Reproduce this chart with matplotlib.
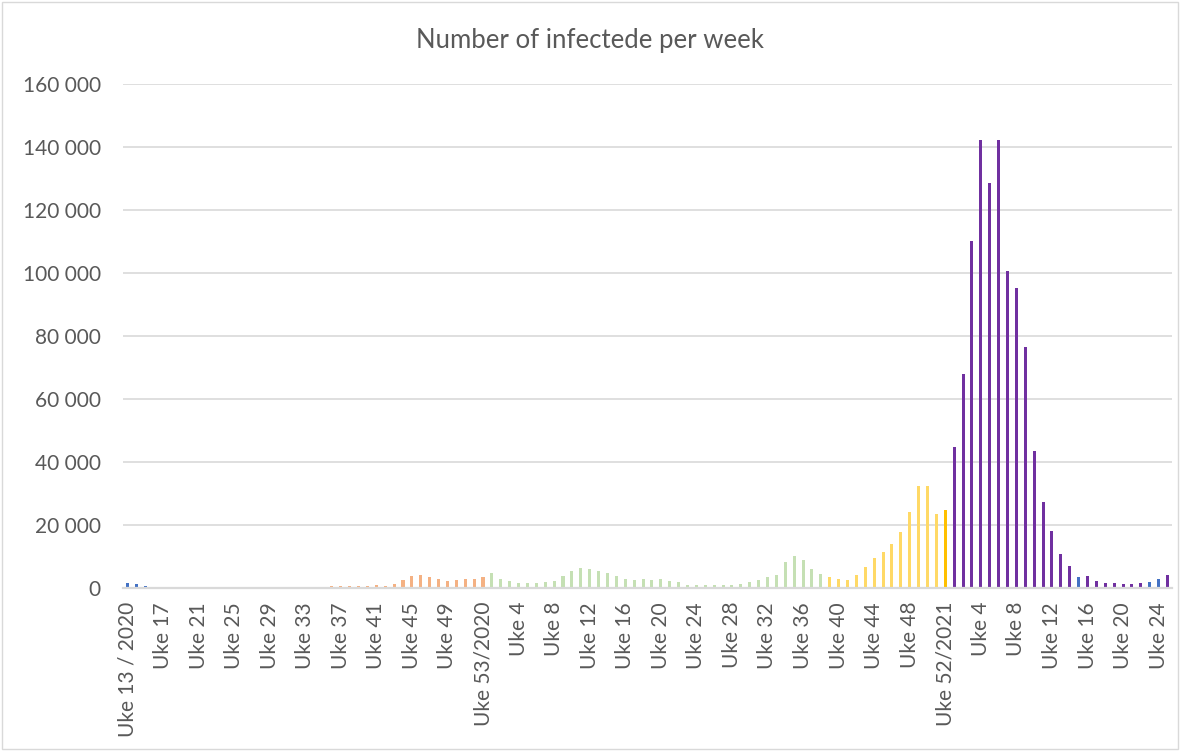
import matplotlib
matplotlib.use("Agg")
import matplotlib.pyplot as plt
from matplotlib.patches import Rectangle

# --- data: weekly infected counts, Uke 13/2020 .. Uke 25/2022 ------------
cases_2020 = [1700, 1400, 800, 450, 420,                      # w13-w17
              0, 0, 0, 0, 0, 0, 0, 0, 0, 0, 0, 0, 0, 0, 0, 0, 0, 0,  # w18-w35
              740, 740, 740, 740, 740, 1060, 740, 1380, 2650, 3900,
              4240, 3650, 2970, 2330, 2650, 2970, 2970, 3650]  # w36-w53
cases_2021 = [4820, 2970, 2330, 1700, 1700, 1700, 2010, 2330, 3920, 5400,
              6360, 6040, 5400, 4770, 3920, 2970, 2650, 2970, 2650, 2860,
              2200, 1900, 1060, 1060, 1060, 1060, 1060, 1060, 1380, 2010,
              2650, 3600, 4240, 8260, 10070, 8800, 6000, 4460, 3550, 2900,
              2550, 4180, 6620, 9380, 11460, 14000, 17720, 24190, 32360, 32360,
              23660, 24850]
cases_2022 = [44740, 68010, 110300, 142200, 128540, 142200, 100670, 95370,
              76400, 43530, 27350, 18020, 10920, 6980, 3490, 3810, 2330,
              1690, 1690, 1380, 1380, 1690, 2010, 2860, 4130]

# colour group of consecutive bars (group, number of bars)
color_runs = [("blue", 5), ("none", 18), ("orange", 18), ("green", 38),
              ("yellow", 13), ("gold", 1), ("purple", 14), ("blue", 1),
              ("purple", 7), ("blue", 2), ("purple", 1)]

tick_labels = ["Uke 13 / 2020", "Uke 17", "Uke 21", "Uke 25", "Uke 29",
               "Uke 33", "Uke 37", "Uke 41", "Uke 45", "Uke 49",
               "Uke 53/2020", "Uke 4", "Uke 8", "Uke 12", "Uke 16",
               "Uke 20", "Uke 24", "Uke 28", "Uke 32", "Uke 36",
               "Uke 40", "Uke 44", "Uke 48", "Uke 52/2021", "Uke 4",
               "Uke 8", "Uke 12", "Uke 16", "Uke 20", "Uke 24"]

palette = {"blue": "#4472C4", "none": "#FFFFFF", "orange": "#F4B183",
           "green": "#C5E0B4", "yellow": "#FFD966", "gold": "#FFC000",
           "purple": "#7030A0"}

cases = cases_2020 + cases_2021 + cases_2022
colors = []
for name, n in color_runs:
    colors += [palette[name]] * n

plt.rcParams["font.family"] = ["Lato", "DejaVu Sans"]
GRAY = "#595959"

fig = plt.figure(figsize=(11.8, 7.51), dpi=100)
ax = fig.add_axes([0.1042, 0.217, 0.889, 0.671])

x = list(range(len(cases)))
ax.bar(x, cases, width=0.34, color=colors, zorder=3)

ax.set_xlim(-0.5, len(cases) - 0.5)
ax.set_ylim(0, 160000)
ax.set_yticks(range(0, 160001, 20000))
ax.set_yticklabels([f"{v:,}".replace(",", " ") for v in range(0, 160001, 20000)])
ax.set_xticks(x[::4])
ax.set_xticklabels(tick_labels, rotation=90, ha="center", va="top")

ax.grid(axis="y", color="#D9D9D9", linewidth=1.2, zorder=0)
for s in ["top", "right", "left"]:
    ax.spines[s].set_visible(False)
ax.spines["bottom"].set_color("#D9D9D9")
ax.spines["bottom"].set_linewidth(1.6)
ax.spines["bottom"].set_zorder(4)
ax.tick_params(axis="both", length=0, colors=GRAY, labelsize=15)
ax.tick_params(axis="x", pad=10)
ax.tick_params(axis="y", pad=16)

fig.text(0.5, 0.946, "Number of infectede per week", ha="center", va="center",
         fontsize=18.5, color=GRAY)

# light chart border
fig.patches.append(Rectangle((0.002, 0.002), 0.996, 0.996, transform=fig.transFigure,
                             fill=False, edgecolor="#D9D9D9", linewidth=1))

fig.savefig("out.png", dpi=100)
